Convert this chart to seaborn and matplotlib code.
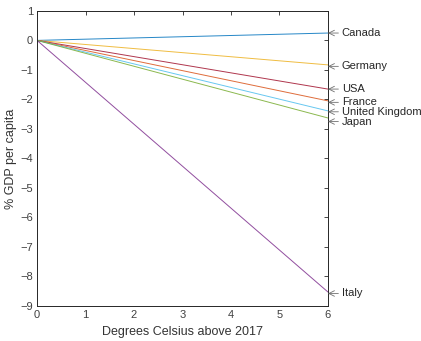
import pandas as pd
import numpy as np
import matplotlib.pyplot as plt
import seaborn as sns

# Data
countries = ['Canada', 'Germany', 'USA', 'France', 'United Kingdom', 'Japan', 'Italy']
gdp_at_6 = [0.25, -0.83, -1.65, -2.05, -2.39, -2.63, -8.53]
temps = [0, 6]

# MATLAB default colour order
colors = {'Canada': '#0072BD', 'Germany': '#EDB120', 'USA': '#A2142F',
          'France': '#D95319', 'United Kingdom': '#4DBEEE', 'Japan': '#77AC30',
          'Italy': '#7E2F8E'}

rows = []
for c, v in zip(countries, gdp_at_6):
    rows.append({'country': c, 'temp': temps[0], 'gdp': 0.0})
    rows.append({'country': c, 'temp': temps[1], 'gdp': v})
df = pd.DataFrame(rows)

sns.set_style('white')
plt.rcParams['font.family'] = ['Liberation Sans', 'DejaVu Sans']

fig = plt.figure(figsize=(4.21, 3.41), dpi=100)
ax = fig.add_axes([0.088, 0.103, 0.691, 0.865])

sns.lineplot(data=df, x='temp', y='gdp', hue='country', palette=colors,
             linewidth=0.7, alpha=0.85, legend=False, ax=ax)

ax.set_xlim(0, 6)
ax.set_ylim(-9, 1)
ax.set_xticks(range(0, 7))
ax.set_yticks(range(-9, 2))
ax.tick_params(direction='in', length=3, width=0.6, labelsize=8, colors='#262626',
               labelcolor='#404040', top=True, right=True, pad=3)
for s in ax.spines.values():
    s.set_linewidth(0.7)
    s.set_color('#262626')
ax.set_xlabel('Degrees Celsius above 2017', fontsize=9, color='#333333', labelpad=4)
ax.set_ylabel('% GDP per capita', fontsize=9, color='#333333', labelpad=2)

# label nudges so the crowded ones do not overlap
nudge = {'Canada': 0.0, 'Germany': -0.05, 'USA': 0.0, 'France': -0.05,
         'United Kingdom': -0.03, 'Japan': -0.12, 'Italy': -0.05}
for c, v in zip(countries, gdp_at_6):
    y = v + nudge[c]
    ax.annotate('', xy=(6, y), xycoords='data', xytext=(7.5, 0), textcoords='offset points',
                arrowprops=dict(arrowstyle='->', color='#707070', lw=0.6,
                                shrinkA=0, shrinkB=0), annotation_clip=False)
    ax.annotate(c, xy=(6, y), xycoords='data', xytext=(10, 0), textcoords='offset points',
                va='center', ha='left', fontsize=8, color='#262626',
                annotation_clip=False)

fig.savefig('out.png', dpi=100)
